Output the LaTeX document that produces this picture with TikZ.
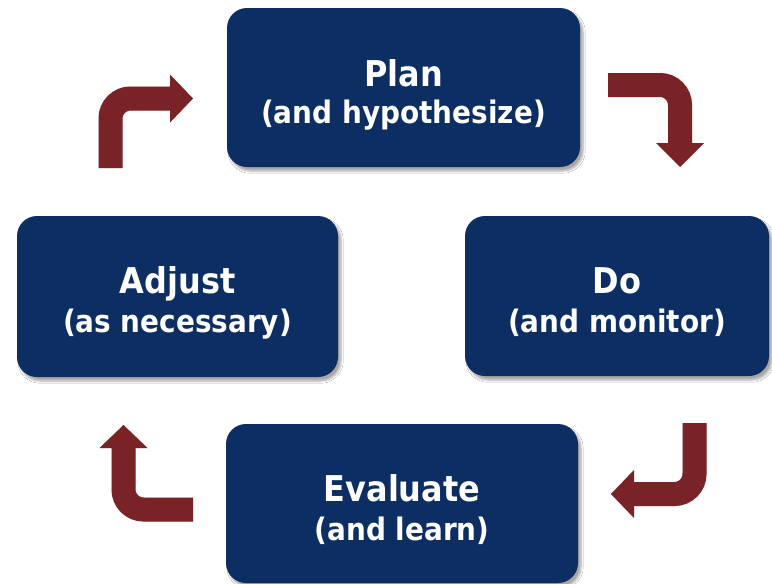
\documentclass[tikz,border=0pt]{standalone}
\usepackage{fontspec}
\setmainfont{DejaVu Sans}[FakeStretch=0.9]
\usetikzlibrary{shadows.blur}
\definecolor{navy}{RGB}{12,46,99}
\definecolor{maroon}{RGB}{122,35,39}
\definecolor{shade}{RGB}{215,215,215}
\begin{document}
\begin{tikzpicture}[x=1pt,y=-1pt,
  box/.style={fill=navy, rounded corners=20pt, inner sep=0pt,
    blur shadow={shadow xshift=3pt, shadow yshift=-4pt, shadow opacity=35, shadow blur steps=6}},
  ttl/.style={anchor=base, text=white, font=\bfseries\fontsize{35.5}{40}\selectfont, inner sep=0pt},
  sub/.style={anchor=base, text=white, font=\bfseries\fontsize{31}{36}\selectfont, inner sep=0pt},
  shaft/.style={draw=maroon, line width=24pt, rounded corners=20pt},
  head/.style={fill=maroon},
  shaftsh/.style={draw=shade, line width=24pt, rounded corners=20pt},
  headsh/.style={fill=shade}]
\useasboundingbox (0,0) rectangle (772,584);
\fill[white] (0,0) rectangle (772,584);

% boxes
\node[box, minimum width=353pt, minimum height=159pt] (plan) at (403.5,87.5) {};
\node[box, minimum width=321pt, minimum height=161pt] (adjust) at (177.5,296.5) {};
\node[box, minimum width=304pt, minimum height=160pt] (do) at (617,296) {};
\node[box, minimum width=352pt, minimum height=159pt] (eval) at (402,503.5) {};

% texts
\node[ttl] (planT) at (403.5,86) {Plan};
\node[sub] (planS) at (403.5,123) {(and hypothesize)};
\node[ttl] (adjustT) at (177.5,293) {Adjust};
\node[sub] (adjustS) at (177.5,332) {(as necessary)};
\node[ttl] (doT) at (617,293) {Do};
\node[sub] (doS) at (617,332) {(and monitor)};
\node[ttl] (evalT) at (402,501) {Evaluate};
\node[sub] (evalS) at (402,540) {(and learn)};

% arrow coordinates
\coordinate (a1s) at (110.5,168); \coordinate (a1c) at (110.5,98.5); \coordinate (a1b) at (172,98.5);
\coordinate (a1l) at (170,74.5); \coordinate (a1t) at (193,98.5); \coordinate (a1r) at (170,122.5);
\coordinate (a2s) at (608,85); \coordinate (a2c) at (680,85); \coordinate (a2b) at (680,145);
\coordinate (a2l) at (656,143); \coordinate (a2t) at (680,167); \coordinate (a2r) at (704,143);
\coordinate (a3s) at (694.5,423); \coordinate (a3c) at (694.5,494); \coordinate (a3b) at (632,494);
\coordinate (a3l) at (634,470); \coordinate (a3t) at (611,494); \coordinate (a3r) at (634,518);
\coordinate (a4s) at (193,509.5); \coordinate (a4c) at (123.5,509.5); \coordinate (a4b) at (123.5,446);
\coordinate (a4l) at (99.5,448); \coordinate (a4t) at (123.5,425); \coordinate (a4r) at (147.5,448);

% arrow shadows
\begin{scope}[shift={(3,4)}]
  \foreach \a in {a1,a2,a3,a4} {
    \draw[shaftsh] (\a s) -- (\a c) -- (\a b);
    \fill[headsh] (\a l) -- (\a t) -- (\a r) -- cycle;
  }
\end{scope}
% arrows
\foreach \a in {a1,a2,a3,a4} {
  \draw[shaft] (\a s) -- (\a c) -- (\a b);
  \fill[head] (\a l) -- (\a t) -- (\a r) -- cycle;
}
\end{tikzpicture}
\end{document}
